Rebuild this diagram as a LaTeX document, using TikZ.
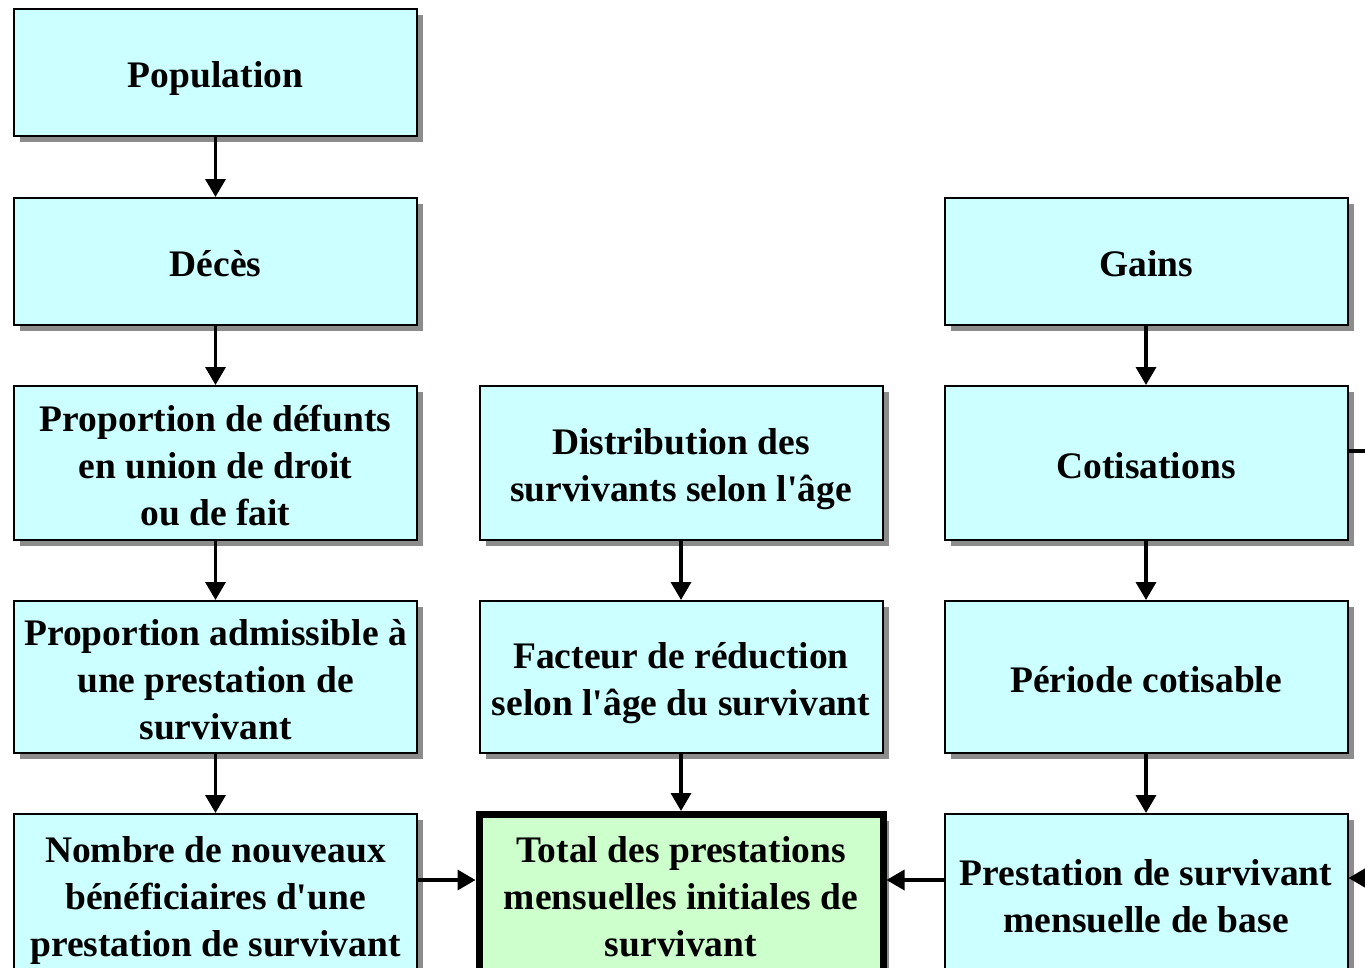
\documentclass[tikz,border=0pt]{standalone}
\usepackage{fontspec}
\setmainfont{Liberation Serif}[Ligatures=TeXOff]
\usetikzlibrary{arrows.meta,shadows}
\definecolor{boxcyan}{RGB}{204,255,255}
\definecolor{boxgreen}{RGB}{204,255,204}
\definecolor{shadowgray}{RGB}{140,140,140}
\newcommand{\bt}[1]{\raisebox{-6pt}[\height][\depth]{\begin{tabular}{@{}c@{}}#1\end{tabular}}}
\begin{document}
\begin{tikzpicture}[x=1pt,y=-1pt,
  box/.style={draw=black, line width=2pt, fill=boxcyan, minimum width=403pt,
    inner sep=0pt, align=center,
    font=\fontsize{37.5}{47}\selectfont\bfseries,
    drop shadow={shadow xshift=6pt, shadow yshift=-6pt, fill=shadowgray, opacity=1}},
  totalbox/.style={box, fill=boxgreen, line width=7pt, minimum width=404pt},
  arr/.style={line width=3.5pt, -{Triangle[length=18pt,width=20pt]}},
  link/.style={line width=3.5pt}
]
\useasboundingbox (0,0) rectangle (1365,967);
\clip (0,0) rectangle (1365,967);
\fill[white] (0,0) rectangle (1365,967);

% column 1
\node[box, minimum height=127pt] (pop) at (215.5,72.5) {\bt{Population}};
\node[box, minimum height=127pt] (dec) at (215.5,261.5) {\bt{Décès}};
\node[box, minimum height=154pt] (prop) at (215.5,463) {\bt{Proportion de défunts\\en union de droit\\ou de fait}};
\node[box, minimum height=152pt] (adm) at (215.5,677) {\bt{Proportion admissible à\\une prestation de\\survivant}};
\node[box, minimum height=160pt] (nomb) at (215.5,894) {\bt{Nombre de nouveaux\\bénéficiaires d'une\\prestation de survivant}};

% column 2
\node[box, minimum height=154pt] (dist) at (681,463) {\bt{Distribution des\\survivants selon l'âge}};
\node[box, minimum height=152pt] (fact) at (681,677) {\bt{Facteur de réduction\\selon l'âge du survivant}};
\node[totalbox, minimum height=160pt] (tot) at (681,894.5) {\bt{Total des prestations\\mensuelles initiales de\\survivant}};

% column 3
\node[box, minimum height=127pt] (gains) at (1146,261.5) {\bt{Gains}};
\node[box, minimum height=154pt] (cot) at (1146,463) {\bt{Cotisations}};
\node[box, minimum height=152pt] (per) at (1146,677) {\bt{Période cotisable}};
\node[box, minimum height=160pt] (prest) at (1146,894) {\bt{Prestation de survivant\\mensuelle de base}};

% free ends at the right edge
\coordinate (cout) at (1372,451);
\coordinate (pin) at (1372,878);
\coordinate (hrow) at (0,880);

% connectors
\draw[arr] (pop) -- (dec);
\draw[arr] (dec) -- (prop);
\draw[arr] (prop) -- (adm);
\draw[arr] (adm) -- (nomb);
\draw[arr] (dist) -- (fact);
\draw[arr] (fact) -- (tot);
\draw[arr] (gains) -- (cot);
\draw[arr] (cot) -- (per);
\draw[arr] (per) -- (prest);
\draw[arr] (nomb.east |- hrow) -- (tot.west |- hrow);
\draw[arr] (prest.west |- hrow) -- (tot.east |- hrow);
\draw[link] (cot.east |- cout) -- (cout);
\draw[arr] (pin) -- (prest.east |- pin);
\end{tikzpicture}
\end{document}
